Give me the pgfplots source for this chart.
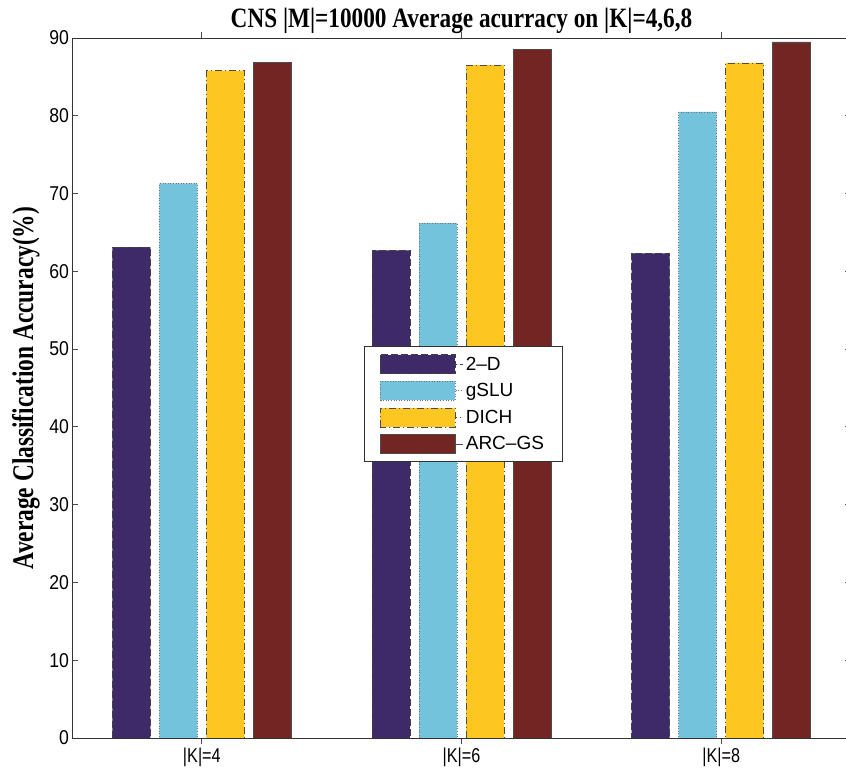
\documentclass[border=0pt]{standalone}
\usepackage{pgfplots}
\pgfplotsset{compat=1.18}
\usepackage{fontspec}
\setmainfont{Liberation Sans}
\newfontfamily\timesfont{Liberation Serif}
\definecolor{cA}{RGB}{62,42,104}
\definecolor{cB}{RGB}{115,195,220}
\definecolor{cC}{RGB}{254,198,32}
\definecolor{cD}{RGB}{115,37,35}
\begin{document}
\begin{tikzpicture}
\begin{axis}[
  scale only axis,
  width=779pt, height=700pt,
  xmin=0.5, xmax=3.5, ymin=0, ymax=90,
  ytick={0,10,...,90},
  xtick={1,2,3},
  xticklabels={|K|=4,|K|=6,|K|=8},
  /pgf/number format/assume math mode=true,
  tick label style={font=\fontsize{20}{24}\selectfont, xscale=0.88},
  x tick label style={xscale=0.92},
  tick align=inside,
  major tick length=6pt,
  tick style={black!70, line width=0.8pt},
  axis line style={black!80, line width=0.9pt},
  title={\scalebox{0.83}[1]{\timesfont\bfseries\fontsize{28}{32}\selectfont CNS |M|=10000 Average acurracy on |K|=4,6,8}},
  title style={yshift=-5pt},
  ylabel={\scalebox{0.78}[1]{\timesfont\bfseries\fontsize{30}{34}\selectfont Average Classification Accuracy(\%)}},
  ylabel style={yshift=3pt},
  ybar,
  bar width=0.146,
  legend style={at={(0.502,0.477)}, anchor=center, draw=black!80, line width=0.8pt,
    font=\fontsize{19}{22}\selectfont, row sep=7pt, inner xsep=16pt, inner ysep=8pt},
  legend cell align=left,
  legend image code/.code={\path (0pt,0pt) -- (83pt,0pt); \draw[#1] (0pt,-9.5pt) rectangle (75pt,9.5pt);},
]
\addplot[bar shift=-0.2715, fill=cA, draw=black!75, line width=0.6pt, dash pattern=on 7pt off 3pt] coordinates {(1,63.1) (2,62.7) (3,62.3)};
\addplot[bar shift=-0.0905, fill=cB, draw=black!55, line width=0.6pt, dotted] coordinates {(1,71.3) (2,66.2) (3,80.5)};
\addplot[bar shift=0.0905, fill=cC, draw=black!70, line width=0.7pt, dash pattern=on 7pt off 3pt on 1pt off 3pt] coordinates {(1,85.8) (2,86.5) (3,86.8)};
\addplot[bar shift=0.2715, fill=cD, draw=black!70, line width=0.5pt] coordinates {(1,86.85) (2,88.55) (3,89.5)};
\legend{2--D,gSLU,DICH,ARC--GS\hspace{5pt}}
\end{axis}
\pgfresetboundingbox
\path[use as bounding box] ([xshift=-72pt,yshift=-30pt]current axis.south west) rectangle ([xshift=-5pt,yshift=38pt]current axis.north east);
\end{tikzpicture}
\end{document}
